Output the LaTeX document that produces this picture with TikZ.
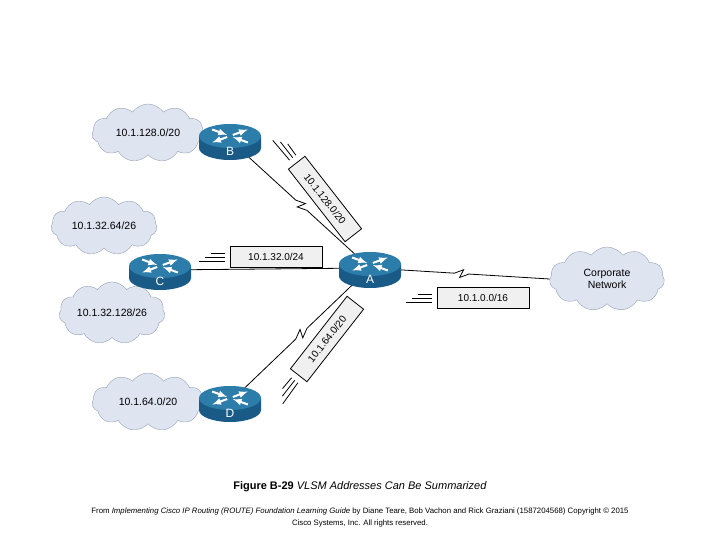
\documentclass[tikz,border=0pt]{standalone}
\usepackage{fontspec}
\setmainfont{Liberation Sans}
\usetikzlibrary{positioning,shapes.symbols,calc}
\definecolor{cloudfill}{RGB}{222,228,240}
\definecolor{cloudline}{RGB}{150,160,180}
\definecolor{rtrside}{RGB}{25,90,135}
\definecolor{rtrtop}{RGB}{45,125,170}
\tikzset{
  net/.style={cloud, cloud puffs=11, cloud puff arc=110, aspect=2, draw=cloudline, fill=cloudfill,
    minimum width=#1, minimum height=58pt, font=\fontsize{10.5}{12}\selectfont, align=center, inner sep=0pt},
  rtr/.style={minimum width=62pt, minimum height=42pt, inner sep=0pt},
  addr/.style={draw, thick, fill=gray!12, minimum width=92pt, minimum height=21pt, font=\fontsize{10}{11}\selectfont},
  link/.style={thick},
  serial/.style={thick, to path={-- ($(\tikztostart)!.47!(\tikztotarget)$)
      -- ($(\tikztostart)!.52!(\tikztotarget)!4pt!90:(\tikztotarget)$)
      -- ($(\tikztostart)!.50!(\tikztotarget)!-4pt!90:(\tikztotarget)$)
      -- ($(\tikztostart)!.55!(\tikztotarget)$) -- (\tikztotarget)}},
  pics/router/.style={code={
    \fill[rtrside] (-31pt,4pt) -- (-31pt,-8pt) arc[start angle=180,end angle=360,x radius=31pt,y radius=12pt] -- (31pt,4pt) -- cycle;
    \fill[rtrtop] (0,4pt) ellipse[x radius=31pt,y radius=12pt];
    \foreach \a in {20,200} \draw[white,line width=2pt,-latex] (\a:3pt)++(0,4pt) -- ++(\a:16pt);
    \foreach \a in {160,340} \draw[white,line width=2pt,latex-] (\a:3pt)++(0,4pt) -- ++(\a:16pt);
    \node[white, font=\fontsize{12}{13}\selectfont] at (0,-11pt) {#1};
  }},
  speed/.style={thick}
}
\begin{document}
\begin{tikzpicture}[x=1pt,y=-1pt]
\useasboundingbox (0,0) rectangle (720,540);
% clouds
\node (nb) [net=112pt] at (148,133) {10.1.128.0/20};
\node (nc1) [net=106pt] at (104,226) {10.1.32.64/26};
\node (nc2) [net=106pt] at (112,313) {10.1.32.128/26};
\node (nd) [net=112pt] at (148,402) {10.1.64.0/20};
\node (corp) [net=115pt, minimum height=64pt] at (607,279) {Corporate\\Network};
% routers
\node (B) [rtr] at (230,140) {};
\node (A) [rtr] at (370,268) {};
\node (C) [rtr] at (160,270) {};
\node (D) [rtr] at (230,402) {};
% links
\draw[serial] (B.center) to (A.center);
\draw[serial] (D.center) to (A.center);
\draw[link] (C.center) -- (A.center);
\draw[serial] (A.center) to (corp.west);
\foreach \r in {A,B,C,D} \pic at (\r) {router=\r};
% address boxes
\node (sC) [addr] at (276,257) {10.1.32.0/24};
\node (sA) [addr] at (483,298) {10.1.0.0/16};
\node (sB) [addr, rotate=-52] at (325,199) {10.1.128.0/20};
\node (sD) [addr, rotate=52] at (327,339) {10.1.64.0/20};
% speed marks
\foreach \d/\l in {0/20,4/14,-4/26} {
  \draw[speed] ([xshift=-5pt,yshift=\d pt]sC.west) -- ++(-\l pt,0);
  \draw[speed] ([xshift=-5pt,yshift=\d pt]sA.west) -- ++(-\l pt,0);
}
\foreach \s in {sB,sD} {
  \coordinate (p) at ($(\s.west)!-6pt!(\s.east)$);
  \foreach \d/\l in {0/20,4/14,-4/26}
    \draw[speed] ($(p)!\d pt!90:(\s.east)$) -- ($($(p)!\d pt!90:(\s.east)$)!-\l pt!(\s.east)$);
}
% caption
\node (cap) at (360,487) {\fontsize{11}{13}\selectfont\textbf{Figure B-29} \textit{VLSM Addresses Can Be Summarized}};
\node (src) [align=center, font=\fontsize{7.8}{12}\selectfont] at (360,517) {From \textit{Implementing Cisco IP Routing (ROUTE) Foundation Learning Guide} by Diane Teare, Bob Vachon and Rick Graziani (1587204568) Copyright © 2015\\Cisco Systems, Inc. All rights reserved.};
\end{tikzpicture}
\end{document}
